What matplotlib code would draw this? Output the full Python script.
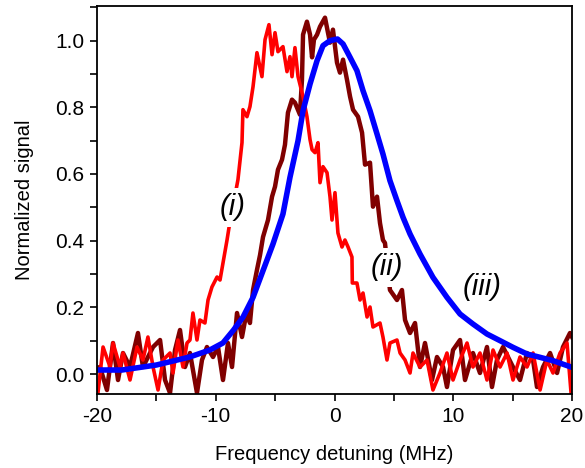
import matplotlib
matplotlib.use("Agg")
import matplotlib.pyplot as plt
from matplotlib.ticker import MultipleLocator

plt.rcParams["font.family"] = ["Liberation Sans", "DejaVu Sans"]
plt.rcParams["axes.unicode_minus"] = False

# (i) red trace: detuning (MHz), normalized signal
red_x = [-19.92, -19.49, -18.90, -18.65, -18.06, -17.81, -17.22, -16.63, -16.13, -15.71,
         -15.28, -14.86, -14.44, -13.85, -13.60, -13.18, -12.76, -12.42, -12.17, -11.92,
         -11.58, -11.33, -10.91, -10.65, -10.32, -9.89, -9.64, -9.39, -9.05, -8.88,
         -8.13, -7.79, -7.71, -7.37, -7.12, -6.86, -6.53, -6.11, -5.85, -5.52,
         -5.26, -5.01, -4.76, -4.34, -4.00, -3.75, -3.58, -3.33, -3.07, -2.65,
         -2.32, -2.06, -1.89, -1.64, -1.39, -1.22, -0.97, -0.63, -0.38, -0.21,
         0.04, 0.29, 0.63, 0.88, 1.14, 1.47, 1.50, 1.89, 2.15, 2.40,
         2.74, 2.99, 3.24, 3.83, 4.08, 4.42, 4.67, 5.26, 5.52, 5.94,
         6.36, 6.61, 7.20, 7.79, 8.29, 8.88, 9.47, 9.98, 10.57, 11.16,
         11.66, 12.25, 12.84, 13.35, 13.94, 14.53, 15.03, 15.62, 16.21, 16.72,
         17.31, 17.89, 18.40, 18.99, 19.58, 19.92]
red_y = [-0.057, 0.081, 0.021, 0.093, 0.021, 0.063, -0.018, 0.081, 0.042, 0.111,
         0.021, -0.048, 0.042, 0.063, 0.003, 0.102, 0.021, 0.093, 0.102, 0.183,
         0.102, 0.162, 0.153, 0.222, 0.261, 0.291, 0.282, 0.333, 0.402, 0.44,
         0.583, 0.694, 0.793, 0.772, 0.802, 0.862, 0.964, 0.892, 1.003, 1.048,
         0.958, 1.024, 0.967, 0.982, 0.907, 0.952, 0.892, 0.979, 0.892, 0.832,
         0.772, 0.703, 0.673, 0.664, 0.694, 0.574, 0.622, 0.604, 0.532, 0.462,
         0.544, 0.423, 0.381, 0.402, 0.381, 0.351, 0.273, 0.273, 0.222, 0.243,
         0.171, 0.201, 0.141, 0.153, 0.111, 0.042, 0.093, 0.102, 0.063, 0.042,
         0.003, 0.063, 0.021, 0.042, -0.048, 0.003, 0.063, -0.018, 0.042, 0.093,
         0.021, 0.063, -0.018, 0.072, 0.021, 0.063, -0.018, 0.051, 0.021, 0.063,
         -0.048, 0.042, 0.003, 0.063, 0.093, -0.057]

# (ii) dark red trace
dark_x = [-19.75, -19.16, -18.65, -18.23, -17.81, -17.22, -16.55, -16.13, -15.28, -14.69,
          -14.27, -13.85, -13.43, -13.01, -12.59, -12.17, -11.58, -11.16, -10.74, -10.23,
          -9.81, -9.39, -8.97, -8.63, -8.21, -7.79, -7.37, -7.12, -6.86, -6.53,
          -6.27, -6.02, -5.60, -5.26, -5.01, -4.76, -4.42, -4.17, -3.92, -3.58,
          -3.33, -2.91, -2.74, -2.65, -2.32, -2.06, -1.89, -1.73, -1.47, -1.22,
          -0.80, -0.55, -0.38, -0.13, 0.21, 0.46, 0.72, 1.05, 1.31, 1.56,
          1.98, 2.32, 2.57, 2.99, 3.24, 3.58, 3.83, 4.08, 4.25, 4.67,
          5.26, 5.68, 5.94, 6.36, 6.78, 7.20, 7.62, 8.21, 8.63, 9.14,
          9.47, 9.98, 10.57, 10.99, 11.66, 12.25, 12.84, 13.26, 13.68, 14.19,
          15.03, 15.62, 16.21, 16.72, 17.05, 17.56, 18.15, 18.74, 19.24, 19.83,
          20.0]
dark_y = [0.021, -0.048, 0.093, -0.018, 0.063, 0.021, 0.123, 0.021, 0.081, 0.102,
          -0.018, -0.057, 0.072, 0.132, 0.021, 0.063, -0.057, 0.042, 0.081, 0.051,
          0.081, -0.018, 0.093, 0.021, 0.183, 0.111, 0.192, 0.153, 0.252, 0.312,
          0.357, 0.411, 0.462, 0.532, 0.562, 0.613, 0.643, 0.688, 0.784, 0.823,
          0.814, 0.778, 0.883, 1.018, 1.057, 1.018, 0.95, 1.003, 1.018, 1.042,
          1.069, 1.024, 0.994, 1.033, 0.934, 0.904, 0.943, 0.883, 0.832, 0.793,
          0.772, 0.724, 0.628, 0.634, 0.502, 0.532, 0.453, 0.402, 0.393, 0.252,
          0.222, 0.252, 0.162, 0.123, 0.153, 0.021, 0.093, -0.018, 0.051, 0.021,
          -0.039, 0.072, 0.102, -0.018, 0.063, 0.003, 0.081, -0.039, 0.042, 0.081,
          0.021, -0.018, 0.063, 0.042, -0.039, 0.021, 0.063, 0.003, 0.081, 0.123,
          0.111]

# (iii) blue trace
blue_x = [-20.0, -17.9, -15.0, -12.2, -10.5, -9.4, -8.5, -7.7, -6.86, -6.02,
          -5.18, -4.34, -3.75, -3.07, -2.65, -2.06, -1.47, -0.97, -0.38, 0.25,
          0.72, 1.31, 1.89, 2.40, 2.99, 3.58, 4.08, 4.67, 5.26, 5.77,
          6.36, 7.20, 8.29, 9.47, 10.57, 11.66, 12.84, 13.94, 15.03, 16.21,
          17.31, 18.40, 20.0]
blue_y = [0.012, 0.012, 0.027, 0.051, 0.072, 0.093, 0.132, 0.171, 0.23, 0.31,
          0.39, 0.48, 0.59, 0.70, 0.79, 0.87, 0.94, 0.985, 1.0, 1.005,
          0.99, 0.95, 0.91, 0.85, 0.79, 0.72, 0.66, 0.58, 0.52, 0.47,
          0.42, 0.36, 0.29, 0.23, 0.18, 0.15, 0.12, 0.10, 0.08, 0.06,
          0.05, 0.04, 0.02]

fig = plt.figure(figsize=(5.85, 4.68), dpi=100)
ax = fig.add_axes([0.1658, 0.1581, 0.812, 0.8291])

ax.plot(dark_x, dark_y, color="#800000", lw=3.2, solid_joinstyle="round")
ax.plot(red_x, red_y, color="#ff0000", lw=2.6, solid_joinstyle="round")
ax.plot(blue_x, blue_y, color="#0000ff", lw=4.0, solid_joinstyle="round",
        solid_capstyle="round")

# labels sit on white boxes that hide the trace behind them
box = dict(facecolor="white", edgecolor="none", pad=4)
ax.text(-8.55, 0.50, "(i)", style="italic", fontsize=21, ha="center", va="center",
        bbox=box, zorder=5)
ax.text(4.42, 0.32, "(ii)", style="italic", fontsize=21, ha="center", va="center",
        bbox=box, zorder=5)
ax.text(12.4, 0.26, "(iii)", style="italic", fontsize=21, ha="center", va="center",
        zorder=5)

ax.set_xlim(-20, 20)
ax.set_ylim(-0.06, 1.104)
ax.xaxis.set_major_locator(MultipleLocator(10))
ax.xaxis.set_minor_locator(MultipleLocator(5))
ax.yaxis.set_major_locator(MultipleLocator(0.2))
ax.yaxis.set_minor_locator(MultipleLocator(0.1))
ax.yaxis.set_major_formatter(lambda v, p: f"{v:.1f}")
ax.tick_params(which="both", direction="out", length=5, width=1.2, labelsize=15,
               pad=4, top=False, right=False)
for s in ax.spines.values():
    s.set_linewidth(1.3)

ax.set_xlabel("Frequency detuning (MHz)", fontsize=14.5, labelpad=14)
ax.set_ylabel("Normalized signal", fontsize=14.5, labelpad=15)

fig.savefig("out.png", dpi=100)
